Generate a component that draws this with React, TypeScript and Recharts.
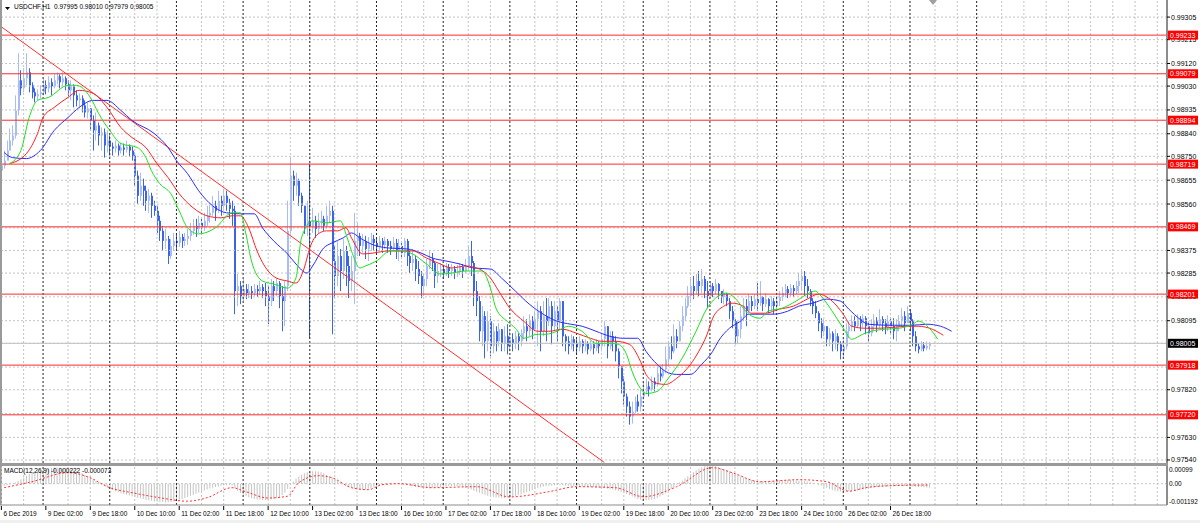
import React from "react";
import {
  ComposedChart,
  Bar,
  Line,
  XAxis,
  YAxis,
  ReferenceLine,
} from "recharts";

// prices in 1e-5 (points), macd in 1e-6
const firstOpen = 98693;

const closes = [
  98713, 98733, 98773, 98813, 98833, 98933, 99053, 99021, 99061, 99085,
  99033, 99005, 98989, 98997, 99005, 99033, 99021, 99045, 99029, 99053,
  99069, 99045, 99061, 99037, 99013, 99029, 98993, 98973, 98981, 98953,
  98925, 98941, 98893, 98853, 98873, 98833, 98845, 98793, 98813, 98789,
  98781, 98793, 98773, 98785, 98777, 98789, 98773, 98753, 98673, 98593,
  98633, 98613, 98573, 98593, 98553, 98533, 98493, 98453, 98413, 98421,
  98353, 98393, 98413, 98405, 98429, 98413, 98421, 98433, 98453, 98473,
  98461, 98485, 98469, 98493, 98513, 98525, 98553, 98533, 98573, 98553,
  98593, 98565, 98541, 98533, 98213, 98233, 98193, 98221, 98205, 98213,
  98205, 98221, 98213, 98229, 98213, 98193, 98173, 98233, 98213, 98245,
  98193, 98173, 98233, 98453, 98673, 98633, 98653, 98593, 98553, 98473,
  98493, 98473, 98493, 98461, 98485, 98501, 98473, 98513, 98533, 98333,
  98273, 98353, 98293, 98373, 98313, 98253, 98293, 98413, 98433, 98393,
  98413, 98381, 98405, 98421, 98405, 98389, 98413, 98397, 98413, 98393,
  98381, 98405, 98373, 98393, 98365, 98413, 98353, 98325, 98341, 98301,
  98273, 98233, 98261, 98313, 98341, 98325, 98273, 98293, 98301, 98285,
  98309, 98293, 98301, 98285, 98293, 98309, 98293, 98313, 98353, 98325,
  98213, 98173, 98053, 98113, 98013, 98093, 97993, 98053, 98013, 98061,
  98005, 98033, 97993, 98021, 98005, 98033, 98013, 98045, 98073, 98053,
  98093, 98061, 98101, 98133, 98053, 98113, 98093, 98153, 98073, 98133,
  98093, 98173, 98033, 98013, 97993, 98021, 98005, 97989, 98013, 97993,
  98005, 97981, 98001, 97985, 98005, 97993, 98021, 98073, 97993, 98033,
  98013, 97973, 97913, 97853, 97793, 97753, 97713, 97733, 97773, 97753,
  97793, 97813, 97833, 97821, 97853, 97841, 97885, 97873, 97901, 97941,
  97993, 97973, 98033, 98013, 98073, 98113, 98153, 98193, 98233, 98213,
  98253, 98233, 98261, 98213, 98193, 98233, 98213, 98241, 98213, 98189,
  98201, 98173, 98133, 98093, 98033, 98061, 98113, 98153, 98133, 98173,
  98153, 98181, 98165, 98189, 98161, 98181, 98153, 98173, 98153, 98173,
  98189, 98205, 98221, 98205, 98225, 98213, 98233, 98253, 98273, 98233,
  98213, 98173, 98153, 98125, 98085, 98053, 98073, 98021, 98045, 98013,
  98033, 98001, 97973, 97993, 98053, 98073, 98093, 98073, 98101, 98085,
  98105, 98073, 98045, 98073, 98093, 98077, 98101, 98085, 98069, 98093,
  98073, 98053, 98073, 98093, 98113, 98085, 98125, 98093, 98033, 97993,
  97981, 97997, 97985, 97995, 98005,
];

const highs = [
  98733, 98773, 98813, 98861, 98873, 98993, 99161, 99093, 99101, 99161,
  99101, 99045, 99021, 99017, 99033, 99061, 99053, 99069, 99061, 99077,
  99085, 99077, 99085, 99069, 99053, 99053, 99037, 99013, 99001, 98993,
  98973, 98965, 98941, 98913, 98925, 98885, 98865, 98861, 98853, 98833,
  98805, 98813, 98801, 98805, 98801, 98813, 98797, 98789, 98765, 98693,
  98685, 98661, 98633, 98621, 98605, 98573, 98553, 98513, 98473, 98461,
  98433, 98421, 98445, 98437, 98453, 98441, 98445, 98461, 98485, 98501,
  98501, 98513, 98501, 98525, 98553, 98557, 98593, 98573, 98613, 98593,
  98621, 98613, 98581, 98573, 98553, 98281, 98253, 98261, 98241, 98241,
  98233, 98241, 98237, 98253, 98241, 98245, 98233, 98261, 98253, 98265,
  98253, 98233, 98253, 98573, 98745, 98693, 98685, 98661, 98605, 98553,
  98573, 98721, 98545, 98513, 98525, 98533, 98513, 98553, 98573, 98553,
  98393, 98413, 98381, 98421, 98393, 98353, 98353, 98525, 98485, 98445,
  98441, 98433, 98429, 98445, 98437, 98421, 98433, 98425, 98429, 98421,
  98413, 98429, 98421, 98421, 98413, 98425, 98421, 98373, 98381, 98353,
  98333, 98293, 98285, 98341, 98373, 98365, 98333, 98321, 98325, 98317,
  98325, 98321, 98321, 98313, 98317, 98325, 98321, 98341, 98393, 98413,
  98333, 98253, 98193, 98153, 98133, 98133, 98113, 98085, 98073, 98085,
  98061, 98073, 98081, 98053, 98045, 98053, 98045, 98061, 98113, 98101,
  98121, 98113, 98133, 98173, 98153, 98173, 98185, 98185, 98173, 98173,
  98153, 98185, 98173, 98041, 98033, 98041, 98033, 98021, 98033, 98021,
  98021, 98013, 98017, 98013, 98021, 98013, 98045, 98093, 98073, 98053,
  98053, 98033, 97985, 97913, 97873, 97805, 97773, 97773, 97793, 97801,
  97821, 97853, 97865, 97853, 97873, 97869, 97913, 97913, 97921, 97993,
  98013, 98033, 98081, 98061, 98093, 98153, 98185, 98233, 98265, 98273,
  98281, 98293, 98301, 98273, 98253, 98253, 98245, 98261, 98245, 98213,
  98221, 98205, 98185, 98153, 98101, 98093, 98153, 98185, 98181, 98201,
  98193, 98201, 98245, 98253, 98193, 98205, 98185, 98193, 98185, 98193,
  98213, 98229, 98241, 98233, 98241, 98237, 98253, 98285, 98293, 98293,
  98261, 98221, 98185, 98173, 98133, 98105, 98101, 98073, 98065, 98053,
  98061, 98045, 98013, 98021, 98085, 98093, 98117, 98113, 98121, 98113,
  98121, 98113, 98093, 98101, 98121, 98109, 98141, 98113, 98101, 98117,
  98105, 98105, 98101, 98117, 98145, 98133, 98153, 98141, 98101, 98053,
  98005, 98013, 98009, 98013, 98010,
];

const lows = [
  98625, 98701, 98741, 98773, 98793, 98821, 98913, 98993, 99005, 99033,
  99005, 98981, 98965, 98973, 98981, 98993, 98997, 99005, 98993, 99021,
  99037, 99021, 99029, 99013, 98989, 98973, 98945, 98949, 98941, 98925,
  98905, 98901, 98853, 98773, 98813, 98793, 98773, 98745, 98765, 98753,
  98753, 98765, 98753, 98761, 98753, 98765, 98749, 98733, 98633, 98561,
  98573, 98553, 98533, 98525, 98505, 98513, 98445, 98413, 98373, 98381,
  98321, 98341, 98373, 98381, 98389, 98385, 98393, 98397, 98413, 98437,
  98429, 98445, 98437, 98453, 98473, 98485, 98513, 98493, 98525, 98513,
  98541, 98533, 98501, 98473, 98121, 98153, 98161, 98173, 98181, 98185,
  98181, 98193, 98189, 98197, 98185, 98153, 98081, 98153, 98173, 98193,
  98145, 98053, 98073, 98213, 98433, 98573, 98593, 98553, 98525, 98441,
  98433, 98025, 98445, 98425, 98445, 98461, 98453, 98461, 98485, 98041,
  98185, 98233, 98213, 98261, 98233, 98185, 98213, 98161, 98353, 98353,
  98365, 98341, 98333, 98373, 98373, 98361, 98373, 98365, 98381, 98365,
  98357, 98373, 98341, 98333, 98341, 98349, 98313, 98285, 98293, 98253,
  98241, 98185, 98193, 98233, 98301, 98293, 98225, 98245, 98269, 98261,
  98273, 98265, 98273, 98261, 98269, 98277, 98265, 98285, 98293, 98273,
  98153, 98113, 98013, 97993, 97945, 97973, 97953, 97965, 97973, 97993,
  97973, 97973, 97961, 97973, 97973, 97981, 97977, 97993, 98021, 98013,
  98033, 98021, 98053, 97993, 97973, 98033, 98013, 98073, 98001, 98053,
  98013, 98061, 97993, 97973, 97961, 97981, 97973, 97965, 97973, 97965,
  97973, 97961, 97973, 97961, 97973, 97965, 97973, 97993, 97945, 97981,
  97973, 97933, 97865, 97805, 97761, 97713, 97681, 97685, 97725, 97733,
  97733, 97781, 97801, 97793, 97813, 97813, 97833, 97853, 97865, 97885,
  97913, 97941, 97965, 97985, 98013, 98053, 98093, 98145, 98173, 98181,
  98201, 98193, 98205, 98185, 98145, 98185, 98189, 98201, 98181, 98165,
  98161, 98153, 98101, 98065, 98001, 98001, 98025, 98093, 98073, 98125,
  98133, 98141, 98133, 98153, 98133, 98149, 98125, 98133, 98121, 98133,
  98153, 98173, 98189, 98185, 98193, 98189, 98201, 98205, 98213, 98193,
  98185, 98153, 98121, 98105, 98053, 98025, 98033, 97993, 97993, 97973,
  97981, 97973, 97941, 97949, 97981, 98025, 98053, 98053, 98065, 98053,
  98069, 98041, 98013, 98033, 98053, 98049, 98065, 98053, 98041, 98053,
  98041, 98021, 98013, 98053, 98073, 98053, 98085, 98053, 97993, 97973,
  97965, 97973, 97973, 97977, 97979,
];

const macdMain = [
  -150, -120, -80, -40, 0, 60, 150, 250, 350, 450, 550, 620, 680, 720,
  760, 800, 840, 860, 880, 900, 900, 890, 870, 850, 820, 780, 740, 700, 640, 580,
  500, 420, 330, 240, 150, 60, -30, -120, -200,
  -280, -350, -420, -480, -530, -580, -620, -660, -700, -740,
  -780, -820, -860, -900, -930, -960, -990, -1010, -1030, -1040,
  -1050, -1040, -1020, -990, -950, -900,
  -850, -800, -740, -680, -620, -560, -500, -440, -380, -320,
  -270, -220, -180, -150, -120, -100, -90, -80, -100,
  -250, -400, -520, -620, -700, -760, -810, -850, -880, -900,
  -910, -910, -900, -880, -850, -810, -760,
  -650, -500, -300, -80, 120, 280,
  400, 500, 580, 640, 680, 700, 700, 680, 640, 580, 500, 420,
  330, 240, 150, 60, -20, -100, -170, -230, -280, -320, -340, -340, -320, -280,
  -240, -200, -160, -120, -80, -50, -20, 0, 10, 10, 0, -20, -50,
  -80, -110, -140, -170, -200, -220, -240, -250, -250, -240,
  -230, -210, -190, -170, -150, -140, -130, -130, -140, -160, -190,
  -230, -280, -330, -390, -450, -510, -570, -620, -670, -710,
  -740, -770, -790, -800, -800, -790, -770, -740, -700, -650,
  -600, -540, -480, -420,
  -360, -300, -250, -200, -160, -130, -110, -100, -90, -80,
  -80, -90, -100, -110, -120, -130, -140, -150, -160, -170,
  -180, -190, -200, -210, -220, -240, -260, -280, -300, -330, -360, -400, -450, -510,
  -580, -650, -720, -790, -850, -900, -930, -940, -930, -900,
  -860, -800, -720, -630, -530, -420,
  -300, -180, -60, 60, 180, 300,
  420, 540, 650, 750, 840, 910, 960, 990, 1000, 990, 970, 930, 880, 820, 760, 690,
  620, 550, 480, 410, 350, 290, 240, 200, 170, 150, 140, 130, 130,
  140, 150, 160, 170, 180, 190, 200, 200, 200, 190, 180, 170, 160, 140, 120,
  90, 50, 0, -60, -120, -180, -240, -300, -350, -390, -420, -440,
  -450, -450, -440, -420, -400, -380, -350, -320, -290, -260,
  -240, -220, -200, -190, -180, -170, -160, -150,
  -140, -130, -120, -120, -130, -140, -150, -160, -170, -180, -190, -200, -210, -222,
];

// Alligator lines, [bar slot, price points]
const lipsPts: [number, number][] = [
  [3, 98721], [7, 98773], [10, 98905], [13, 98973], [17, 98985], [24, 99033], [27, 99033],
  [32, 98985], [35, 98921], [39, 98853], [43, 98801], [49, 98785], [52, 98745], [54, 98693],
  [57, 98641], [61, 98601], [64, 98533], [67, 98465], [71, 98441], [77, 98465], [83, 98525],
  [86, 98525], [88, 98441], [90, 98333], [94, 98253], [98, 98241], [103, 98225], [106, 98265],
  [108, 98425], [112, 98493], [117, 98485], [122, 98493], [124, 98441], [126, 98373], [129, 98305],
  [131, 98313], [135, 98333], [140, 98373], [144, 98373], [148, 98361], [153, 98321], [158, 98281],
  [162, 98285], [167, 98293], [173, 98293], [176, 98225], [178, 98145], [182, 98093], [185, 98065],
  [188, 98025], [193, 98041], [196, 98041], [200, 98053], [204, 98073], [209, 98053], [214, 98005],
  [219, 98005], [222, 98001], [225, 97961], [227, 97893], [230, 97825], [232, 97805], [236, 97813],
  [240, 97865], [245, 97945], [250, 98053], [254, 98145], [257, 98185], [261, 98205], [264, 98185],
  [267, 98145], [269, 98121], [273, 98105], [276, 98133], [281, 98145], [286, 98173], [290, 98201],
  [293, 98213], [295, 98193], [299, 98133], [303, 98065], [306, 98021], [310, 98041], [313, 98053],
  [318, 98061], [323, 98065], [328, 98081], [330, 98093], [334, 98065], [337, 98021],
];

const teethPts: [number, number][] = [
  [3, 98721], [9, 98761], [13, 98841], [15, 98905], [19, 98945], [24, 98985], [28, 99013],
  [33, 99001], [38, 98945], [43, 98865], [47, 98825], [52, 98785], [56, 98721], [60, 98665],
  [64, 98601], [69, 98545], [74, 98513], [79, 98505], [83, 98513], [86, 98513], [89, 98465],
  [92, 98373], [96, 98293], [99, 98265], [103, 98253], [106, 98245], [109, 98305], [111, 98385],
  [114, 98441], [117, 98453], [121, 98453], [124, 98465], [126, 98425], [130, 98361], [134, 98365],
  [139, 98373], [143, 98373], [148, 98373], [153, 98345], [158, 98321], [162, 98305], [167, 98313],
  [172, 98301], [176, 98265], [179, 98213], [183, 98145], [188, 98093], [193, 98053], [197, 98053],
  [202, 98061], [207, 98045], [212, 98025], [216, 98013], [221, 98013], [226, 98001], [230, 97933],
  [232, 97881], [236, 97845], [239, 97841], [243, 97865], [248, 97921], [251, 97973], [254, 98041],
  [256, 98105], [260, 98153], [263, 98165], [267, 98153], [270, 98125], [275, 98125], [280, 98141],
  [285, 98153], [290, 98181], [294, 98201], [299, 98173], [303, 98121], [306, 98073], [311, 98065],
  [316, 98065], [321, 98069], [326, 98073], [330, 98073], [335, 98061], [339, 98037],
];

const jawPts: [number, number][] = [
  [1, 98765], [4, 98745], [9, 98741], [14, 98773], [19, 98853], [24, 98905], [28, 98945],
  [33, 98973], [38, 98973], [43, 98933], [47, 98893], [55, 98841], [60, 98785], [63, 98733],
  [67, 98681], [71, 98613], [76, 98553], [81, 98525], [86, 98521], [91, 98521], [94, 98465],
  [98, 98413], [103, 98361], [106, 98321], [110, 98285], [112, 98313], [116, 98385], [119, 98405],
  [123, 98425], [126, 98445], [129, 98425], [133, 98401], [139, 98385], [146, 98381], [151, 98365],
  [155, 98345], [160, 98333], [165, 98321], [170, 98305], [176, 98301], [180, 98265], [185, 98213],
  [190, 98161], [195, 98121], [200, 98093], [205, 98081], [209, 98073], [214, 98053], [219, 98033],
  [224, 98025], [229, 98025], [232, 97973], [236, 97921], [239, 97893], [243, 97881], [248, 97881],
  [252, 97921], [256, 97973], [258, 98013], [262, 98065], [266, 98093], [269, 98121], [273, 98121],
  [278, 98121], [283, 98133], [287, 98153], [292, 98165], [297, 98181], [302, 98173], [305, 98141],
  [309, 98101], [312, 98081], [319, 98077], [323, 98077], [328, 98077], [333, 98081], [338, 98073],
  [342, 98053],
];

const signalPts: [number, number][] = [
  [1, -224], [11, 112], [24, 616], [31, 392], [39, -224], [47, -504], [57, -784], [67, -980],
  [74, -784], [83, -224], [88, -448], [96, -800], [103, -700], [107, 56], [114, 448], [119, 336],
  [126, -224], [132, -336], [137, -56], [143, 0], [155, -224], [171, -168], [183, -740], [197, -448],
  [207, -168], [221, -224], [231, -728], [243, -168], [256, 896], [263, 616], [273, 112], [287, 224],
  [297, 112], [305, -420], [311, -224], [320, -112], [334, -73],
];

const levels = [99233, 99079, 98894, 98719, 98469, 98201, 97918, 97720];
const bidPrice = 98005;
// all grid levels of the price scale
const gridTicks = [
  99305, 99215, 99120, 99030, 98935, 98840, 98750, 98655, 98560, 98465,
  98375, 98285, 98190, 98095, 98005, 97910, 97820, 97725, 97630, 97540,
];
// price labels not hidden behind a level box
const priceTicks = [
  99305, 99215, 99120, 99030, 98935, 98840, 98750, 98655, 98560,
  98375, 98285, 98190, 98095, 97820, 97630, 97540,
];
const macdTicks = [0.00099, 0, -0.001192];
const macdTickLabels = ["0.00099", "0.00", "-0.001192"];
const labelSlots = [0, 16, 32, 48, 64, 80, 96, 112, 128, 144, 160, 176, 192, 208, 224, 240, 256, 272, 288, 304, 320];
const timeLabels = [
  "6 Dec 2019", "9 Dec 02:00", "9 Dec 18:00", "10 Dec 10:00", "11 Dec 02:00", "11 Dec 18:00",
  "12 Dec 10:00", "13 Dec 02:00", "13 Dec 18:00", "16 Dec 10:00", "17 Dec 02:00", "17 Dec 18:00",
  "18 Dec 10:00", "19 Dec 02:00", "19 Dec 18:00", "20 Dec 10:00", "23 Dec 02:00", "23 Dec 18:00",
  "24 Dec 10:00", "26 Dec 02:00", "26 Dec 18:00",
];
const daySeparators = [15, 39, 63, 87, 111, 135, 159, 183, 207, 231, 255, 279, 303, 327, 351];
const trendStart = { slot: 0, price: 99266 };
const trendEnd = { slot: 217, price: 97530 };

const SLOTS = 420;
const FONT = "'Liberation Sans', Arial, sans-serif";
const BEAR = "#3c64e6";
const BULL = "#a9bdf4";

const rows: any[] = [];
for (let i = 0; i < SLOTS; i++) {
  const r: any = { slot: i };
  if (i < closes.length) {
    const o = i === 0 ? firstOpen : closes[i - 1];
    r.open = o / 1e5;
    r.close = closes[i] / 1e5;
    r.high = highs[i] / 1e5;
    r.low = lows[i] / 1e5;
    r.range = [r.low, r.high];
    r.hist = macdMain[i] / 1e6;
  }
  rows.push(r);
}
lipsPts.forEach(([s, v]) => (rows[s].lips = v / 1e5));
teethPts.forEach(([s, v]) => (rows[s].teeth = v / 1e5));
jawPts.forEach(([s, v]) => (rows[s].jaw = v / 1e5));
signalPts.forEach(([s, v]) => (rows[s].signal = v / 1e6));

const lightGrid: number[] = [];
for (let k = 0; k * 8 < SLOTS; k++) {
  if (k % 3 === 2 && k * 8 <= 352) continue;
  lightGrid.push(k * 8);
}

const Candle = (props: any) => {
  const { x, y, width, height, payload } = props;
  if (!payload || payload.open == null || y == null) return null;
  const c = Math.floor(x + width / 2);
  const span = payload.high - payload.low || 1e-9;
  const yAt = (v: number) => y + ((payload.high - v) / span) * height;
  const yo = yAt(payload.open);
  const yc = yAt(payload.close);
  const top = Math.min(yo, yc);
  const bh = Math.max(1, Math.abs(yc - yo));
  const col = payload.close >= payload.open ? BULL : BEAR;
  return (
    <g>
      <rect x={c} y={y} width={1} height={Math.max(1, height)} fill={col} />
      <rect x={c} y={top} width={2} height={bh} fill={col} />
    </g>
  );
};

const PriceTick = (props: any) => {
  const { x, y, payload } = props;
  return (
    <g>
      <line x1={x} x2={x + 3} y1={y} y2={y} stroke="#000" />
      <text x={x + 4} y={y + 2.5} fontSize={7} fontFamily={FONT} fill="#000">
        {(payload.value as number).toFixed(5)}
      </text>
    </g>
  );
};

const MacdTick = (props: any) => {
  const { x, y, index } = props;
  const dy = index === 0 ? 6 : index === 2 ? -1.5 : 2.5;
  return (
    <text x={x + 2} y={y + dy} fontSize={6.5} fontFamily={FONT} fill="#000">
      {macdTickLabels[index]}
    </text>
  );
};

const TimeTick = (props: any) => {
  const { x, y, payload } = props;
  const idx = labelSlots.indexOf(payload.value);
  return (
    <g>
      <line x1={x} x2={x} y1={y + 1} y2={y + 5} stroke="#000" />
      <text x={x + 2} y={y + 11} fontSize={6.5} fontFamily={FONT} fill="#000">
        {timeLabels[idx]}
      </text>
    </g>
  );
};

const boxLabel = (text: string, bg: string) => (props: any) => {
  const vb = props.viewBox || {};
  const bx = (vb.x || 0) + (vb.width || 0) + 1;
  return (
    <g>
      <rect x={bx} y={vb.y - 4.5} width={30} height={9} fill={bg} />
      <text x={bx + 2} y={vb.y + 2.5} fontSize={7} fontFamily={FONT} fill="#fff">
        {text}
      </text>
    </g>
  );
};

const vGrid = (keyPrefix: string) => [
  ...lightGrid.map((s) => (
    <ReferenceLine key={keyPrefix + "g" + s} x={s} stroke="#c4c4c4" strokeDasharray="2 2" />
  )),
  ...daySeparators.map((s) => (
    <ReferenceLine key={keyPrefix + "d" + s} x={s} stroke="#222" strokeDasharray="2 2" />
  )),
];

const PRICE_DOMAIN: [number, number] = [0.97528, 0.99373];

export default function App() {
  return (
    <div style={{ position: "relative", width: 1200, height: 523, background: "#fff", overflow: "hidden", fontFamily: FONT }}>
      <style>{"body{margin:0}"}</style>
      <div style={{ position: "absolute", left: 0, top: 0 }}>
        <ComposedChart
          width={1200}
          height={463}
          data={rows}
          margin={{ top: 0, right: 0, left: 0, bottom: 0 }}
          barCategoryGap={0}
          barGap={0}
        >
          <XAxis dataKey="slot" type="category" hide />
          <YAxis
            orientation="right"
            width={33}
            domain={PRICE_DOMAIN}
            allowDataOverflow
            ticks={priceTicks.map((t) => t / 1e5)}
            interval={0}
            tickLine={false}
            tickSize={0}
            tickMargin={0}
            axisLine={{ stroke: "#8c8c8c", strokeWidth: 2 }}
            tick={<PriceTick />}
          />
          {gridTicks.map((t) => (
            <ReferenceLine key={"h" + t} y={t / 1e5} stroke="#c4c4c4" strokeDasharray="2 2" />
          ))}
          {vGrid("m")}
          <ReferenceLine y={bidPrice / 1e5} stroke="#c0c0c0" />
          {levels.map((l) => (
            <ReferenceLine key={"l" + l} y={l / 1e5} stroke="#ff2a2a" />
          ))}
          <ReferenceLine
            segment={[
              { x: trendStart.slot, y: trendStart.price / 1e5 },
              { x: trendEnd.slot, y: trendEnd.price / 1e5 },
            ]}
            stroke="#ff3030"
          />
          <Bar dataKey="range" shape={<Candle />} isAnimationActive={false} />
          <Line dataKey="jaw" type="monotone" stroke="#2b2bff" strokeWidth={1} dot={false} connectNulls isAnimationActive={false} />
          <Line dataKey="teeth" type="monotone" stroke="#ff2020" strokeWidth={1} dot={false} connectNulls isAnimationActive={false} />
          <Line dataKey="lips" type="monotone" stroke="#1ee01e" strokeWidth={1} dot={false} connectNulls isAnimationActive={false} />
        </ComposedChart>
      </div>
      {/* overlay: price boxes drawn above the axis labels */}
      <div style={{ position: "absolute", left: 0, top: 0 }}>
        <ComposedChart
          width={1200}
          height={463}
          data={rows}
          margin={{ top: 0, right: 0, left: 0, bottom: 0 }}
        >
          <XAxis dataKey="slot" type="category" hide />
          <YAxis orientation="right" width={33} domain={PRICE_DOMAIN} allowDataOverflow tick={false} axisLine={false} tickLine={false} />
          <ReferenceLine y={bidPrice / 1e5} stroke="none" label={boxLabel((bidPrice / 1e5).toFixed(5), "#000")} />
          {levels.map((l) => (
            <ReferenceLine key={"b" + l} y={l / 1e5} stroke="none" label={boxLabel((l / 1e5).toFixed(5), "#ff0000")} />
          ))}
        </ComposedChart>
      </div>
      <div style={{ position: "absolute", left: 0, top: 0, width: 2, height: 505, background: "#9a9a9a" }} />
      <div style={{ position: "absolute", left: 0, top: 463, width: 1168, height: 3, background: "#9a9a9a" }} />
      <svg style={{ position: "absolute", left: 0, top: 0 }} width={300} height={14}>
        <polygon points="5,7 10,7 7.5,10" fill="#000" />
      </svg>
      <svg style={{ position: "absolute", left: 926, top: 0 }} width={14} height={8}>
        <polygon points="3,0 11,0 7,5" fill="#a0a0a0" />
      </svg>
      <div style={{ position: "absolute", left: 14, top: 3, fontSize: 6.5, color: "#000", whiteSpace: "pre", lineHeight: "8px" }}>
        {"USDCHF,H1  0.97995 0.98010 0.97979 0.98005"}
      </div>
      <div style={{ position: "absolute", left: 0, top: 466 }}>
        <ComposedChart
          width={1200}
          height={55}
          data={rows}
          margin={{ top: 0, right: 0, left: 0, bottom: 0 }}
          barCategoryGap={0}
          barGap={0}
        >
          <XAxis
            dataKey="slot"
            type="category"
            height={16}
            ticks={labelSlots}
            interval={0}
            tickLine={false}
            tickSize={0}
            tickMargin={0}
            axisLine={{ stroke: "#8c8c8c" }}
            tick={<TimeTick />}
          />
          <YAxis
            orientation="right"
            width={33}
            domain={[-0.001192, 0.00099]}
            allowDataOverflow
            ticks={macdTicks}
            interval={0}
            tickLine={false}
            tickSize={0}
            tickMargin={0}
            axisLine={{ stroke: "#8c8c8c", strokeWidth: 2 }}
            tick={<MacdTick />}
          />
          {vGrid("s")}
          <ReferenceLine y={0} stroke="#c4c4c4" strokeDasharray="2 2" />
          <Bar dataKey="hist" fill="#c4c4c4" barSize={1} isAnimationActive={false} />
          <Line dataKey="signal" type="monotone" stroke="#ff3030" strokeWidth={1} strokeDasharray="2 2" dot={false} connectNulls isAnimationActive={false} />
        </ComposedChart>
      </div>
      <div style={{ position: "absolute", left: 4, top: 467, fontSize: 6.5, color: "#000", whiteSpace: "pre", lineHeight: "8px" }}>
        {"MACD(12,26,9) -0.000222 -0.000073"}
      </div>
      <div style={{ position: "absolute", left: 0, top: 520, width: 1200, height: 3, background: "#f0f0f0" }} />
    </div>
  );
}
